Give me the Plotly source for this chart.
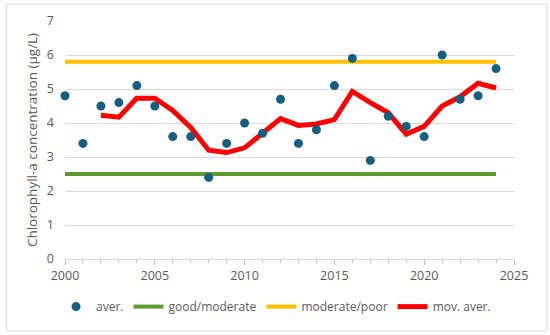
import plotly.graph_objects as go

years = list(range(2000, 2025))
aver = [4.8, 3.4, 4.5, 4.6, 5.1, 4.5, 3.6, 3.6, 2.4, 3.4, 4.0, 3.7, 4.7,
        3.4, 3.8, 5.1, 5.9, 2.9, 4.2, 3.9, 3.6, 6.0, 4.7, 4.8, 5.6]
mov_years = list(range(2002, 2025))
mov_aver = [4.23, 4.17, 4.73, 4.73, 4.37, 3.87, 3.2, 3.13, 3.27, 3.7, 4.13,
            3.93, 3.97, 4.1, 4.93, 4.6, 4.3, 3.67, 3.9, 4.5, 4.77, 5.17, 5.03]
good_moderate = [2.5] * len(years)
moderate_poor = [5.8] * len(years)

FONT = "Open Sans"
fig = go.Figure()
fig.add_trace(go.Scatter(x=years, y=good_moderate, mode="lines", name="good/moderate",
                         line=dict(color="#5E9A2E", width=4), legendrank=2))
fig.add_trace(go.Scatter(x=years, y=moderate_poor, mode="lines", name="moderate/poor",
                         line=dict(color="#FFC000", width=4), legendrank=3))
fig.add_trace(go.Scatter(x=mov_years, y=mov_aver, mode="lines", name="mov. aver.",
                         line=dict(color="#FF0000", width=5), legendrank=4))
fig.add_trace(go.Scatter(x=years, y=aver, mode="markers", name="aver.",
                         marker=dict(color="#156082", size=9), cliponaxis=False,
                         legendrank=1))

fig.update_layout(
    width=550, height=335,
    margin=dict(l=65, r=36, t=21, b=76),
    paper_bgcolor="white", plot_bgcolor="white",
    font=dict(family=FONT, size=12, color="#595959"),
    showlegend=True,
    legend=dict(orientation="h", x=0.47, xanchor="center", y=-0.2, yanchor="middle",
                font=dict(size=12, color="#595959"), itemwidth=30,
                bgcolor="rgba(0,0,0,0)"),
    xaxis=dict(range=[2000, 2025], tickmode="linear", tick0=2000, dtick=5,
               showgrid=False, zeroline=False, showline=True, linecolor="#D9D9D9",
               linewidth=1, ticks="outside", ticklen=5, tickcolor="#BFBFBF",
               minor=dict(dtick=1, ticks="outside", ticklen=3, tickcolor="#BFBFBF"),
               tickfont=dict(size=12.5, color="#595959"), automargin=False),
    yaxis=dict(range=[0, 7], dtick=1, showgrid=True, gridcolor="#D9D9D9", gridwidth=1,
               zeroline=False, showline=False, ticks="", ticklabelstandoff=10,
               tickfont=dict(size=12.5, color="#595959"), automargin=False,
               title=dict(text="Chlorophyll-a concentration (µg/L)",
                          font=dict(size=13.5, color="#595959"), standoff=6)),
    shapes=[dict(type="rect", xref="paper", yref="paper",
                 x0=-0.13, x1=1.0735, y0=-0.3025, y1=1.071,
                 line=dict(color="#D9D9D9", width=1), layer="below")],
)

fig.write_html("out.html", config={"displayModeBar": False},
               post_script="document.body.style.margin='0';document.body.style.overflow='hidden';")
